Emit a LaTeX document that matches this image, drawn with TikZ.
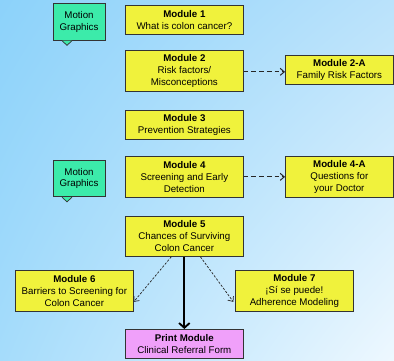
\documentclass[tikz,border=0pt]{standalone}
\usepackage{fontspec}
\setmainfont{Liberation Sans}
\usepackage{tikz}
\usetikzlibrary{arrows.meta}
\usetikzlibrary{shadings}

\definecolor{modyellow}{RGB}{240,242,60}
\definecolor{printpink}{RGB}{240,160,250}
\definecolor{mgreen}{RGB}{60,235,170}
\definecolor{bgdark}{RGB}{140,210,250}
\definecolor{bgright}{RGB}{186,226,251}
\definecolor{bgbottom}{RGB}{165,220,251}
\definecolor{bglight}{RGB}{238,248,255}

\begin{document}
\begin{tikzpicture}[x=0.03cm, y=-0.03cm,
	module/.style={rectangle, draw=black!80, line width=0.6pt, fill=modyellow, minimum width=3.54cm, align=center, anchor=north west, inner sep=1pt, font=\fontsize{8.3}{10.2}\selectfont},
	motion/.style={rectangle, draw=black!80, line width=0.6pt, fill=mgreen, minimum width=1.56cm, minimum height=1.1cm, align=center, inner sep=1pt, font=\fontsize{8.3}{10.2}\selectfont},
	motionptr/.style={draw=black!80, line width=0.6pt, fill=mgreen, line join=miter},
	dashline/.style={black!85, line width=0.85pt, dash pattern=on 4pt off 2.6pt}]

%\draw[step=10, gray, very thin, dotted] (0,0) grid (394,360);

\useasboundingbox (0,0) rectangle (394,360);
\shade[upper left=bgdark, upper right=bgright, lower left=bgbottom, lower right=bglight] (0,0) rectangle (394,360);

\node at (79,22) [motion] (mg1) {Motion\\Graphics};
\filldraw [motionptr] ([xshift=-0.51cm]mg1.south) -- ++(0.15cm,-0.14cm) -- ++(0.15cm,0.14cm);
\node at (79,178.5) [motion] (mg2) {Motion\\Graphics};
\filldraw [motionptr] ([xshift=-0.51cm]mg2.south) -- ++(0.15cm,-0.14cm) -- ++(0.15cm,0.14cm);

\node at (125,5) [module, minimum height=0.87cm] (mod1) {\textbf{Module 1}\\What is colon cancer?};
\node at (125,50) [module, minimum height=1.23cm] (mod2) {\textbf{Module 2}\\Risk factors/\\Misconceptions};
\node at (285,55) [module, minimum height=0.87cm, minimum width=3.24cm] (mod2a) {\textbf{Module 2-A}\\Family Risk Factors};
\node at (125,110) [module, minimum height=0.87cm] (mod3) {\textbf{Module 3}\\Prevention Strategies};
\node at (125,156) [module, minimum height=1.23cm] (mod4) {\textbf{Module 4}\\Screening and Early\\Detection};
\node at (285,156) [module, minimum height=1.23cm, minimum width=3.24cm] (mod4a) {\textbf{Module 4-A}\\Questions for\\ your Doctor};
\node at (125,216) [module, minimum height=1.2cm] (mod5) {\textbf{Module 5}\\Chances of Surviving\\Colon Cancer};
\node at (15,270) [module, minimum height=1.23cm] (mod6) {\textbf{Module 6}\\Barriers to Screening for\\Colon Cancer};
\node at (235,270) [module, minimum height=1.23cm] (mod7) {\textbf{Module 7}\\¡Sí se puede!\\Adherence Modeling};
\node at (125,329) [module, minimum height=0.87cm, fill=printpink] (print) {\textbf{Print Module}\\Clinical Referral Form};

\begin{scope}[>={Straight Barb[length=3.5pt, width=6pt]}]
	\draw [dashline, ->] ([yshift=-0.03cm]mod2.east) -- ([yshift=-0.03cm]mod2.east -| mod2a.west);
	\draw [dashline, ->] (mod4.east) -- (mod4a.west);
	\draw [dashline, line width=0.6pt, dash pattern=on 2pt off 1.3pt, ->] ([xshift=-0.39cm]mod5.south) -- ([yshift=-0.33cm]mod6.east);
	\draw [dashline, line width=0.6pt, dash pattern=on 2pt off 1.3pt, ->] ([xshift=0.48cm]mod5.south) -- ([xshift=-0.05cm, yshift=-0.33cm]mod7.west);
	\draw [black, line width=1.6pt, -{Straight Barb[length=4pt, width=9pt]}] (mod5.south) -- (print.north);
\end{scope}

\end{tikzpicture}
\end{document}
